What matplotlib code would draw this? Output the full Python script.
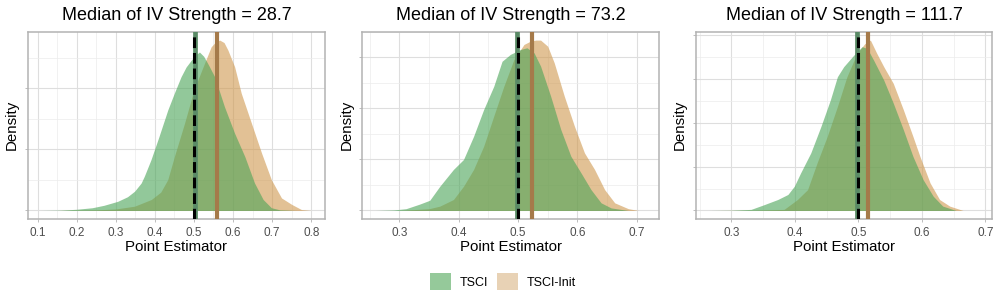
import numpy as np
import matplotlib
matplotlib.use("Agg")
import matplotlib.pyplot as plt
from matplotlib.patches import Patch
from matplotlib.ticker import MultipleLocator

plt.rcParams['font.family'] = ['Liberation Sans', 'DejaVu Sans']

# ---- data (density curves of point estimators) ----
strengths = [28.7, 73.2, 111.7]
true_value = 0.5
tsci_center = [0.503, 0.498, 0.498]
init_center = [0.560, 0.524, 0.516]

tsci_x_1 = [0.11, 0.16, 0.20, 0.24, 0.27, 0.305, 0.33, 0.348, 0.365, 0.373, 0.39, 0.41, 0.433, 0.45,
            0.467, 0.48, 0.493, 0.505, 0.514, 0.525, 0.538, 0.553, 0.578, 0.604, 0.630, 0.655, 0.677,
            0.698, 0.72, 0.76, 0.80]
tsci_d_1 = [0.0, 0.01, 0.04, 0.09, 0.17, 0.30, 0.45, 0.63, 0.90, 1.12, 1.66, 2.40, 3.29, 3.85,
            4.38, 4.70, 4.92, 5.10, 5.19, 5.05, 4.75, 4.38, 3.40, 2.53, 1.77, 0.90, 0.36,
            0.09, 0.02, 0.0, 0.0]
init_x_1 = [0.15, 0.20, 0.25, 0.30, 0.348, 0.391, 0.415, 0.433, 0.45, 0.476, 0.50, 0.527, 0.544,
            0.556, 0.566, 0.577, 0.587, 0.604, 0.621, 0.647, 0.673, 0.698, 0.724, 0.750, 0.775, 0.80]
init_d_1 = [0.0, 0.01, 0.02, 0.05, 0.14, 0.36, 0.60, 1.01, 1.77, 2.86, 3.95, 4.82, 5.36,
            5.53, 5.58, 5.50, 5.25, 4.71, 3.84, 2.86, 1.88, 1.01, 0.41, 0.20, 0.03, 0.0]

tsci_x_2 = [0.26, 0.29, 0.311, 0.334, 0.351, 0.368, 0.391, 0.408, 0.425, 0.442, 0.459, 0.473, 0.487,
            0.504, 0.515, 0.527, 0.538, 0.555, 0.572, 0.589, 0.606, 0.623, 0.640, 0.657, 0.686, 0.70]
tsci_d_2 = [0.0, 0.02, 0.07, 0.25, 0.40, 0.95, 1.61, 2.00, 2.91, 3.96, 4.87, 5.85, 6.12,
            6.31, 6.38, 6.18, 5.66, 4.48, 3.18, 2.13, 1.48, 0.82, 0.30, 0.10, 0.0, 0.0]
init_x_2 = [0.30, 0.35, 0.368, 0.391, 0.408, 0.425, 0.442, 0.459, 0.476, 0.493, 0.510, 0.521, 0.530,
            0.538, 0.550, 0.561, 0.578, 0.595, 0.612, 0.629, 0.646, 0.663, 0.686, 0.703, 0.715]
init_d_2 = [0.0, 0.07, 0.17, 0.43, 0.95, 1.61, 2.52, 3.70, 4.87, 5.92, 6.51, 6.64, 6.68,
            6.68, 6.44, 5.79, 4.48, 3.31, 2.26, 1.61, 0.82, 0.30, 0.07, 0.0, 0.0]

tsci_x_3 = [0.265, 0.30, 0.331, 0.352, 0.373, 0.389, 0.399, 0.409, 0.425, 0.441, 0.456, 0.467, 0.477,
            0.493, 0.506, 0.514, 0.524, 0.540, 0.555, 0.571, 0.586, 0.602, 0.618, 0.633, 0.654, 0.68]
tsci_d_3 = [0.0, 0.01, 0.05, 0.27, 0.50, 0.73, 1.10, 1.71, 2.62, 3.83, 5.05, 6.10, 6.56,
            7.09, 7.47, 7.39, 6.86, 5.95, 4.90, 3.68, 2.47, 1.41, 0.65, 0.20, 0.0, 0.0]
init_x_3 = [0.27, 0.33, 0.36, 0.383, 0.404, 0.420, 0.435, 0.451, 0.467, 0.482, 0.498, 0.510, 0.519,
            0.529, 0.540, 0.555, 0.571, 0.586, 0.597, 0.613, 0.628, 0.644, 0.665, 0.69]
init_d_3 = [0.0, 0.01, 0.03, 0.05, 0.50, 0.95, 2.17, 3.38, 4.74, 6.10, 7.17, 7.60, 7.77,
            7.17, 6.56, 5.80, 4.59, 3.38, 2.47, 1.26, 0.50, 0.20, 0.0, 0.0]

tsci_x = [tsci_x_1, tsci_x_2, tsci_x_3]
tsci_d = [tsci_d_1, tsci_d_2, tsci_d_3]
init_x = [init_x_1, init_x_2, init_x_3]
init_d = [init_d_1, init_d_2, init_d_3]

# ---- styling ----
green = '#4aa457'
tan = '#cf984e'
green_line = '#5a8a66'
tan_line = '#a57a4a'
grid_col = '#dedede'
border_col = '#b3b3b3'

fig = plt.figure(figsize=(10, 3), dpi=100)
lefts = [0.028, 0.3623, 0.6957]
width = 0.2967
bottom, height = 0.27, 0.6247

for i in range(3):
    ax = fig.add_axes([lefts[i], bottom, width, height])
    ax.fill_between(init_x[i], init_d[i], 0, color=tan, alpha=0.6, lw=0, zorder=2)
    ax.fill_between(tsci_x[i], tsci_d[i], 0, color=green, alpha=0.6, lw=0, zorder=3)
    ax.axvline(tsci_center[i], color=green_line, lw=3.4, zorder=4)
    ax.axvline(true_value, color='black', lw=2.2, ls=(0, (3.5, 1.6)), zorder=5)
    ax.axvline(init_center[i], color=tan_line, lw=3.0, zorder=4)

    xmin = min(min(tsci_x[i]), min(init_x[i]))
    xmax = max(max(tsci_x[i]), max(init_x[i]))
    xr = xmax - xmin
    ax.set_xlim(xmin - 0.05 * xr, xmax + 0.05 * xr)
    ymax = max(max(tsci_d[i]), max(init_d[i]))
    ax.set_ylim(-0.05 * ymax, 1.05 * ymax)

    ax.xaxis.set_major_locator(MultipleLocator(0.1))
    ax.xaxis.set_minor_locator(MultipleLocator(0.05))
    ax.yaxis.set_major_locator(MultipleLocator(2))
    ax.yaxis.set_minor_locator(MultipleLocator(1))
    ax.set_yticklabels([])
    ax.grid(which='major', color=grid_col, lw=0.8, zorder=0)
    ax.grid(which='minor', color='#ececec', lw=0.5, zorder=0)
    ax.set_axisbelow(True)
    ax.tick_params(which='major', length=2.5, width=0.6, color=border_col,
                   labelsize=8.5, labelcolor='#4d4d4d', pad=3)
    ax.tick_params(which='minor', length=0)
    for s in ax.spines.values():
        s.set_color(border_col)
        s.set_linewidth(1.1)

    ax.set_title(f'Median of IV Strength = {strengths[i]}', fontsize=13, pad=8)
    ax.set_xlabel('Point Estimator', fontsize=10.8)
    ax.set_ylabel('Density', fontsize=10.8)
    ax.xaxis.set_label_coords(0.5, -0.11)
    ax.yaxis.set_label_coords(-0.03, 0.5)

handles = [Patch(facecolor='#95c99a', edgecolor='none', label='TSCI'),
           Patch(facecolor='#e8d2b5', edgecolor='none', label='TSCI-Init')]
fig.legend(handles=handles, loc='center', bbox_to_anchor=(0.503, 0.061), ncol=2, frameon=False,
           fontsize=9, handlelength=1.7, handleheight=1.7, handletextpad=0.7, columnspacing=0.7)

fig.savefig('out.png', dpi=100)
